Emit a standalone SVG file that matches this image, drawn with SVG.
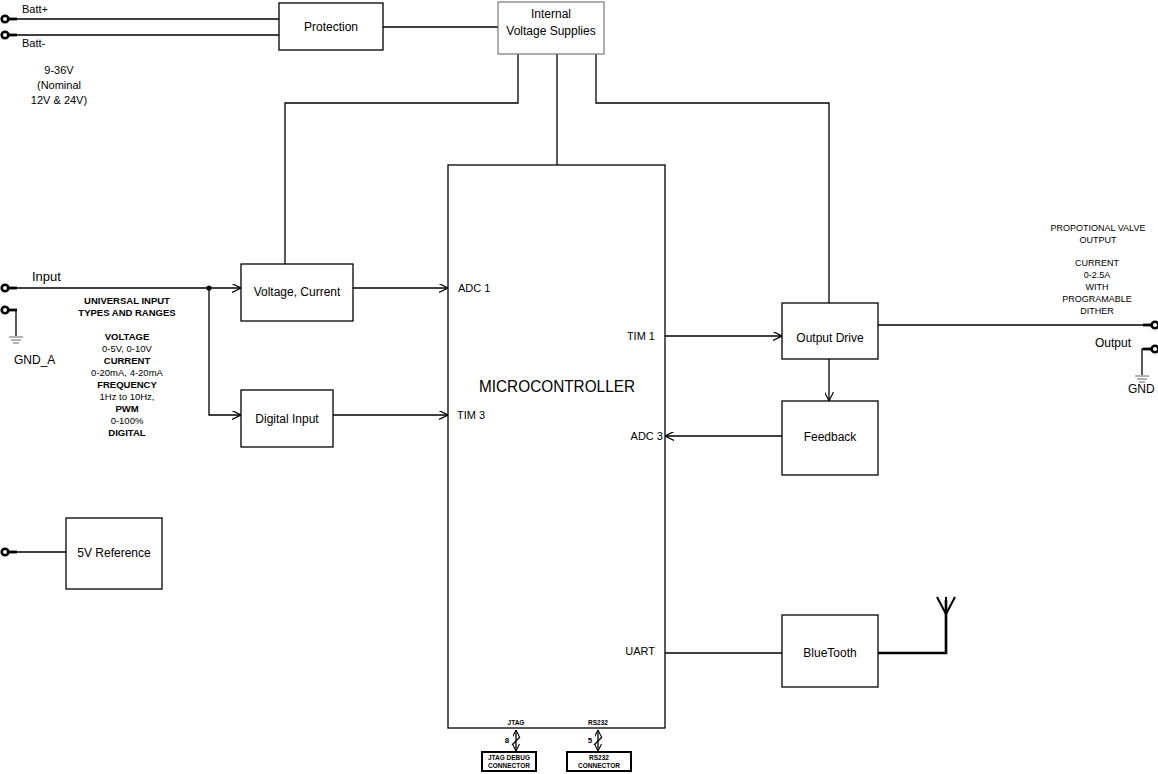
<svg xmlns="http://www.w3.org/2000/svg" width="1158" height="774" viewBox="0 0 1158 774">
<style>
.box{fill:#fff;stroke:#000;stroke-width:1.3}
.grey{fill:#fff;stroke:#777;stroke-width:1.2}
.w{fill:none;stroke:#000;stroke-width:1.3}
.g{fill:none;stroke:#666;stroke-width:1}
.t{font-family:"Liberation Sans",Arial,sans-serif;font-size:12px;fill:#000}
.c{text-anchor:middle}
.r{text-anchor:end}
.s{font-family:"Liberation Sans",Arial,sans-serif;font-size:9.5px;fill:#000;text-anchor:middle}
.b{font-weight:bold}
.tiny{font-family:"Liberation Sans",Arial,sans-serif;font-size:6.5px;font-weight:bold;fill:#000;text-anchor:middle}
.term{fill:#fff;stroke:#000;stroke-width:2.6}
.stub{stroke:#000;stroke-width:2.8}
</style>
<defs>
<marker id="arr" viewBox="0 0 10 10" refX="10" refY="5" markerWidth="9" markerHeight="9" markerUnits="userSpaceOnUse" orient="auto-start-reverse">
<path d="M0,0 L10,5 L0,10" fill="none" stroke="#000" stroke-width="1.3"/>
</marker>
<marker id="sarr" viewBox="0 0 10 10" refX="10" refY="5" markerWidth="7" markerHeight="7" markerUnits="userSpaceOnUse" orient="auto-start-reverse">
<path d="M0,0 L10,5 L0,10" fill="none" stroke="#000" stroke-width="1.5"/>
</marker>
</defs>

<g id="connectors">
<line class="w" x1="12" y1="19" x2="279" y2="19"/>
<line class="w" x1="12" y1="35" x2="279" y2="35"/>
<line class="w" x1="383" y1="27" x2="498" y2="27"/>
<polyline class="w" points="518,54 518,103 285,103 285,264"/>
<line class="w" x1="557" y1="54" x2="557" y2="165"/>
<polyline class="w" points="596,54 596,103 829,103 829,303"/>
<line class="w" x1="12" y1="288" x2="241" y2="288" marker-end="url(#arr)"/>
<polyline class="w" points="209,288 209,415 241,415" marker-end="url(#arr)"/>
<circle cx="209" cy="288" r="2.6" fill="#000"/>
<line class="w" x1="353" y1="288" x2="448" y2="288" marker-end="url(#arr)"/>
<line class="w" x1="333" y1="415" x2="448" y2="415" marker-end="url(#arr)"/>
<line class="w" x1="665" y1="336" x2="782" y2="336" marker-end="url(#arr)"/>
<line class="w" x1="829" y1="359" x2="829" y2="401" marker-end="url(#arr)"/>
<line class="w" x1="782" y1="436" x2="665" y2="436" marker-end="url(#arr)"/>
<line class="w" x1="665" y1="653" x2="782" y2="653"/>
<line class="w" x1="878" y1="325" x2="1150" y2="325"/>
<line class="w" x1="12" y1="552" x2="66" y2="552"/>
<polyline fill="none" stroke="#000" stroke-width="2.6" points="878,653 946,653 946,600"/>
<polyline fill="none" stroke="#000" stroke-width="2" points="937,597 946,614 955,597"/>
<line x1="946" y1="614" x2="946" y2="597" stroke="#000" stroke-width="2"/>
<!-- ground A -->
<polyline class="w" points="12,310 16,310 16,336"/>
<line class="g" x1="9" y1="337" x2="23" y2="337"/>
<line class="g" x1="11" y1="340" x2="21" y2="340"/>
<line class="g" x1="13" y1="343" x2="19" y2="343"/>
<!-- ground right -->
<polyline class="w" points="1150,349 1142,349 1142,375"/>
<line class="g" x1="1135" y1="376" x2="1149" y2="376"/>
<line class="g" x1="1137" y1="379" x2="1147" y2="379"/>
<line class="g" x1="1139" y1="382" x2="1145" y2="382"/>
<!-- JTAG / RS232 buses -->
<line x1="516" y1="730" x2="516" y2="751" stroke="#000" stroke-width="1.3" marker-start="url(#sarr)" marker-end="url(#sarr)"/>
<line x1="512" y1="745" x2="520" y2="737" stroke="#000" stroke-width="1.3"/>
<line x1="598" y1="730" x2="598" y2="751" stroke="#000" stroke-width="1.3" marker-start="url(#sarr)" marker-end="url(#sarr)"/>
<line x1="594" y1="745" x2="602" y2="737" stroke="#000" stroke-width="1.3"/>
</g>

<g id="terminals">
<circle class="term" cx="5" cy="19" r="3.3"/><line class="stub" x1="8" y1="19" x2="17" y2="19"/>
<circle class="term" cx="5" cy="35" r="3.3"/><line class="stub" x1="8" y1="35" x2="17" y2="35"/>
<circle class="term" cx="5" cy="288" r="3.3"/><line class="stub" x1="8" y1="288" x2="17" y2="288"/>
<circle class="term" cx="5" cy="310" r="3.3"/><line class="stub" x1="8" y1="310" x2="17" y2="310"/>
<circle class="term" cx="5" cy="552" r="3.3"/><line class="stub" x1="8" y1="552" x2="17" y2="552"/>
<circle class="term" cx="1155" cy="325" r="3.3"/><line class="stub" x1="1143" y1="325" x2="1152" y2="325"/>
<circle class="term" cx="1155" cy="349" r="3.3"/><line class="stub" x1="1143" y1="349" x2="1152" y2="349"/>
</g>

<g id="protection"><rect class="box" x="279" y="3" width="104" height="47"/><text class="t c" x="331" y="31">Protection</text></g>
<g id="internal-supplies"><rect class="grey" x="498" y="2" width="106" height="52"/><text class="t c" x="551" y="18">Internal</text><text class="t c" x="551" y="35">Voltage Supplies</text></g>
<g id="microcontroller"><rect class="box" x="448" y="165" width="217" height="563"/>
<text class="t c" x="557" y="392" style="font-size:17px" textLength="156" lengthAdjust="spacingAndGlyphs">MICROCONTROLLER</text>
<text class="t" x="458" y="292" style="font-size:11px">ADC 1</text>
<text class="t" x="457" y="419" style="font-size:11px">TIM 3</text>
<text class="t r" x="655" y="340" style="font-size:11px">TIM 1</text>
<text class="t r" x="663" y="440" style="font-size:11px">ADC 3</text>
<text class="t r" x="655" y="655" style="font-size:11px">UART</text>
<text class="tiny" x="516" y="725">JTAG</text>
<text class="tiny" x="598" y="725">RS232</text>
</g>
<g id="voltage-current"><rect class="box" x="241" y="264" width="112" height="57"/><text class="t c" x="297" y="296">Voltage, Current</text></g>
<g id="digital-input"><rect class="box" x="241" y="390" width="92" height="57"/><text class="t c" x="287" y="423">Digital Input</text></g>
<g id="output-drive"><rect class="box" x="782" y="303" width="96" height="56"/><text class="t c" x="830" y="342">Output Drive</text></g>
<g id="feedback"><rect class="box" x="782" y="401" width="96" height="74"/><text class="t c" x="830" y="441">Feedback</text></g>
<g id="bluetooth"><rect class="box" x="782" y="615" width="96" height="72"/><text class="t c" x="830" y="657">BlueTooth</text></g>
<g id="vref"><rect class="box" x="66" y="518" width="96" height="71"/><text class="t c" x="114" y="557">5V Reference</text></g>
<g id="jtag-connector"><rect x="482" y="752" width="54" height="19" fill="#fff" stroke="#000" stroke-width="2"/><text class="tiny" x="509" y="760">JTAG DEBUG</text><text class="tiny" x="509" y="768">CONNECTOR</text><text class="tiny" x="507" y="743" style="font-size:8px">8</text></g>
<g id="rs232-connector"><rect x="567" y="752" width="64" height="19" fill="#fff" stroke="#000" stroke-width="2"/><text class="tiny" x="599" y="760">RS232</text><text class="tiny" x="599" y="768">CONNECTOR</text><text class="tiny" x="590" y="743" style="font-size:8px">5</text></g>

<g id="labels">
<text class="t" x="22" y="13" style="font-size:11px">Batt+</text>
<text class="t" x="22" y="47" style="font-size:11px">Batt-</text>
<text class="t c" x="59" y="74" style="font-size:11px">9-36V</text>
<text class="t c" x="59" y="89" style="font-size:11px">(Nominal</text>
<text class="t c" x="59" y="104" style="font-size:11px">12V &amp; 24V)</text>
<text class="t" x="32" y="281" style="font-size:13px">Input</text>
<text class="t" x="14" y="364">GND_A</text>
<text class="s b" x="127" y="304">UNIVERSAL INPUT</text>
<text class="s b" x="127" y="316">TYPES AND RANGES</text>
<text class="s b" x="127" y="340">VOLTAGE</text>
<text class="s" x="127" y="352">0-5V, 0-10V</text>
<text class="s b" x="127" y="364">CURRENT</text>
<text class="s" x="127" y="376">0-20mA, 4-20mA</text>
<text class="s b" x="127" y="388">FREQUENCY</text>
<text class="s" x="127" y="400">1Hz to 10Hz,</text>
<text class="s b" x="127" y="412">PWM</text>
<text class="s" x="127" y="424">0-100%</text>
<text class="s b" x="127" y="436">DIGITAL</text>
<text class="s" x="1098" y="231" style="font-size:9px">PROPOTIONAL VALVE</text>
<text class="s" x="1098" y="243" style="font-size:9px">OUTPUT</text>
<text class="s" x="1097" y="266" style="font-size:9px">CURRENT</text>
<text class="s" x="1097" y="278" style="font-size:9px">0-2.5A</text>
<text class="s" x="1097" y="290" style="font-size:9px">WITH</text>
<text class="s" x="1097" y="302" style="font-size:9px">PROGRAMABLE</text>
<text class="s" x="1097" y="314" style="font-size:9px">DITHER</text>
<text class="t c" x="1113" y="347">Output</text>
<text class="t" x="1128" y="393">GND</text>
</g>
</svg>
